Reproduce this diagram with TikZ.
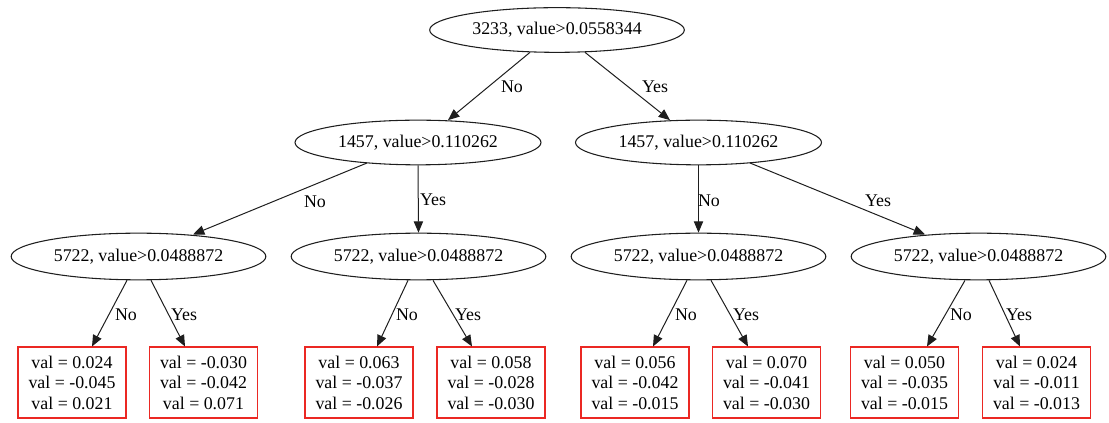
\documentclass[tikz,border=0pt]{standalone}
\usepackage{fontspec}
\setmainfont{Liberation Serif}
\usetikzlibrary{shapes.geometric,arrows.meta,calc}
\definecolor{leafred}{RGB}{235,40,35}
\definecolor{edgeblk}{RGB}{30,30,30}
\tikzset{
  txt/.style={font=\fontsize{13.4}{15.4}\selectfont},
  split/.style={txt,ellipse,draw=edgeblk,line width=0.8pt,inner sep=0pt,minimum width=191pt,minimum height=33.5pt},
  split2/.style={split,minimum width=184.5pt},
  leaf/.style={txt,rectangle,draw=leafred,line width=1pt,inner sep=0pt,minimum width=81pt,minimum height=53pt,align=center},
  arr/.style={draw=edgeblk,line width=0.75pt,-{Triangle[length=8.5pt,width=7pt]}},
  elab/.style={txt,inner sep=0pt}
}
\begin{document}
\begin{tikzpicture}[x=0.75pt,y=-0.75pt]
\useasboundingbox (0,0) rectangle (1109,423);
% splits
\node[split] (root) at (557,30) {3233, value>0.0558344};
\node[split2] (l2a) at (418,142.5) {1457, value>0.110262};
\node[split2] (l2b) at (698.5,142.5) {1457, value>0.110262};
\node[split,minimum height=35pt] (l3a) at (138.5,256.5) {5722, value>0.0488872};
\node[split,minimum height=35pt] (l3b) at (418.5,256.5) {5722, value>0.0488872};
\node[split,minimum height=35pt] (l3c) at (698.5,256.5) {5722, value>0.0488872};
\node[split,minimum height=35pt] (l3d) at (978.5,256.5) {5722, value>0.0488872};
% leaves
\node[leaf] (b1) at (72,382.5) {val = 0.024\\val = -0.045\\val = 0.021};
\node[leaf] (b2) at (203.5,382.5) {val = -0.030\\val = -0.042\\val = 0.071};
\node[leaf] (b3) at (359,382.5) {val = 0.063\\val = -0.037\\val = -0.026};
\node[leaf] (b4) at (491,382.5) {val = 0.058\\val = -0.028\\val = -0.030};
\node[leaf] (b5) at (635,382.5) {val = 0.056\\val = -0.042\\val = -0.015};
\node[leaf] (b6) at (766.5,382.5) {val = 0.070\\val = -0.041\\val = -0.030};
\node[leaf] (b7) at (904.5,382.5) {val = 0.050\\val = -0.035\\val = -0.015};
\node[leaf] (b8) at (1036.5,382.5) {val = 0.024\\val = -0.011\\val = -0.013};
% level 1 edges
\draw[arr] ($(root.south)+(-27,-0.5)$) -- ($(l2a.north)+(30,0.5)$);
\draw[arr] ($(root.south)+(28,-0.5)$) -- ($(l2b.north)+(-28.5,0.5)$);
\node[elab] at (512,87) {No};
\node[elab] at (655,87) {Yes};
% level 2 edges
\draw[arr] ($(l2a)+(-51,20.5)$) -- ($(l3a)+(54.5,-22)$);
\draw[arr] (l2a.south) -- (l3b.north);
\draw[arr] (l2b.south) -- (l3c.north);
\draw[arr] ($(l2b)+(51.5,20.5)$) -- ($(l3d)+(-53.5,-22)$);
\node[elab] at (315,202) {No};
\node[elab] at (433,200) {Yes};
\node[elab] at (709,201) {No};
\node[elab] at (878,201) {Yes};
% level 3 edges
\draw[arr] ($(l3a.south)+(-11.5,0)$) -- ($(b1.north)+(20,0)$);
\draw[arr] ($(l3a.south)+(12.5,0)$) -- ($(b2.north)+(-18.5,0)$);
\draw[arr] ($(l3b.south)+(-10.5,0)$) -- ($(b3.north)+(18,0)$);
\draw[arr] ($(l3b.south)+(14.5,0)$) -- ($(b4.north)+(-19,0)$);
\draw[arr] ($(l3c.south)+(-11.5,0)$) -- ($(b5.north)+(18,0)$);
\draw[arr] ($(l3c.south)+(12.5,0)$) -- ($(b6.north)+(-18.5,0)$);
\draw[arr] ($(l3d.south)+(-13.5,0)$) -- ($(b7.north)+(22.5,0)$);
\draw[arr] ($(l3d.south)+(10.5,0)$) -- ($(b8.north)+(-16.5,0)$);
\node[elab] at (126,315) {No};
\node[elab] at (184,315) {Yes};
\node[elab] at (407,315) {No};
\node[elab] at (468,315) {Yes};
\node[elab] at (686,315) {No};
\node[elab] at (746,315) {Yes};
\node[elab] at (961,315) {No};
\node[elab] at (1019,315) {Yes};
\end{tikzpicture}
\end{document}
